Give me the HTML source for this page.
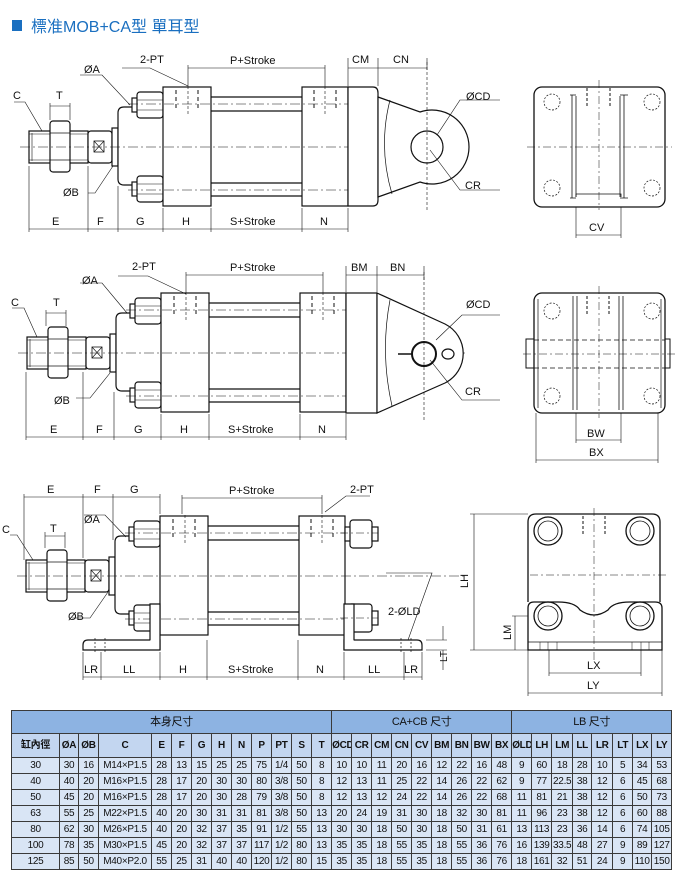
<!DOCTYPE html>
<html><head><meta charset="utf-8">
<style>
html,body{margin:0;padding:0;background:#fff;}
body{width:680px;height:873px;position:relative;overflow:hidden;font-family:"Liberation Sans","Noto Sans CJK TC",sans-serif;}
svg{position:absolute;left:0;top:0;}
svg text{font-family:"Liberation Sans","Noto Sans CJK TC",sans-serif;font-size:11px;fill:#111;}
#tb{position:absolute;left:11px;top:710px;width:661px;border-collapse:collapse;table-layout:fixed;font-size:10px;color:#111;}
#tb td{border:1px solid #3a3a3a;text-align:center;padding:0;background:#d9e5f5;height:15px;line-height:14px;overflow:hidden;white-space:nowrap;letter-spacing:-0.3px;}
#tb tr.h1 td{background:#8db3e2;height:22px;font-size:11px;}
#tb tr.h2 td{background:#c3d6f0;height:23px;font-weight:bold;}
</style></head><body>
<svg width="680" height="873" viewBox="0 0 680 873">
<defs>
<g id="cyl" fill="none" stroke="#111" stroke-width="1.2">
  <rect x="29" y="131" width="59" height="32" fill="#fff"/>
  <line x1="32" y1="133" x2="32" y2="161" stroke-width="0.6"/>
  <line x1="29" y1="134" x2="88" y2="134" stroke-width="0.6"/>
  <line x1="29" y1="160" x2="88" y2="160" stroke-width="0.6"/>
  <rect x="50" y="121" width="20" height="51" rx="3" fill="#fff"/>
  <line x1="50" y1="133" x2="70" y2="133" stroke-width="0.7"/>
  <line x1="50" y1="160" x2="70" y2="160" stroke-width="0.7"/>
  <rect x="88" y="131" width="24" height="32" rx="3" fill="#fff"/>
  <rect x="94" y="141" width="10" height="11" stroke-width="0.8"/>
  <path d="M94,141 L104,152 M104,141 L94,152" stroke-width="0.6"/>
  <rect x="112" y="128" width="6" height="38" fill="#fff"/>
  <path d="M163,107 L124,107 Q118,107 118,113 L118,179 Q118,185 124,185 L163,185" fill="#fff"/>
  <rect x="132" y="98" width="6" height="14" fill="#fff"/>
  <rect x="137" y="92" width="26" height="26" rx="3" fill="#fff"/>
  <line x1="137" y1="100" x2="163" y2="100" stroke-width="0.6"/><line x1="137" y1="110" x2="163" y2="110" stroke-width="0.6"/>
  <rect x="132" y="182" width="6" height="14" fill="#fff"/>
  <rect x="137" y="176" width="26" height="26" rx="3" fill="#fff"/>
  <line x1="137" y1="184" x2="163" y2="184" stroke-width="0.6"/><line x1="137" y1="194" x2="163" y2="194" stroke-width="0.6"/>
  <rect x="163" y="87" width="48" height="119" fill="#fff"/>
  <rect x="302" y="87" width="46" height="119" fill="#fff"/>
  <line x1="211" y1="97" x2="302" y2="97"/><line x1="211" y1="111" x2="302" y2="111"/>
  <line x1="211" y1="183" x2="302" y2="183"/><line x1="211" y1="196" x2="302" y2="196"/>
  <path d="M176,90 V108 M198,90 V108 M314,90 V108 M336,90 V108" stroke-dasharray="4,3" stroke-width="1"/>
  <path d="M188,86 V116 M325,86 V116" stroke-dasharray="3,2" stroke-width="0.6"/>
  <path d="M20,147 H470" stroke-dasharray="10,3,2,3" stroke-width="0.6"/>
  <path d="M128,104 H360 M128,190 H360" stroke-dasharray="10,3,2,3" stroke-width="0.5"/>
</g>
</defs>

<rect x="12" y="20" width="10" height="11" fill="#1a6fc0"/>
<text x="31" y="32" style="font-size:16px;fill:#1a6fc0">標准MOB+CA型 單耳型</text>

<!-- Section 1 -->
<use href="#cyl"/>
<g fill="none" stroke="#111" stroke-width="1.2">
  <path d="M348,87 H373 Q378,87 378,93 V200 Q378,206 373,206 H348 Z" fill="#fff"/>
  <path d="M378,97 L420,112 A37,37 0 1 1 420,182 L378,197 Z" fill="#fff"/>
  <path d="M390,100 Q378,147 392,194" stroke-width="0.7"/>
  <circle cx="427" cy="147" r="16" fill="#fff"/>
  <path d="M427,62 V210" stroke-dasharray="3,2" stroke-width="0.6"/>
</g>
<g stroke="#111" stroke-width="0.6" fill="none">
  <path d="M29,166 V232 M88,166 V232 M118,186 V232 M163,208 V232 M211,208 V232 M302,208 V232 M348,208 V232"/>
  <path d="M29,229 H348"/>
  <path d="M188,68 H325 M188,65 V86 M325,65 V86"/>
  <path d="M348,58 V86 M378,58 V86 M427,58 V70 M348,68 H427"/>
  <path d="M50,103 V120 M70,103 V120 M50,106 H70"/>
  <path d="M122,68 H150 L188,86"/>
  <path d="M80,75 H102 L130,105"/>
  <path d="M14,102 H25 L42,131"/>
  <path d="M88,193 H95 L113,166"/>
  <path d="M500,100 H460 L437,135"/>
  <path d="M500,190 H460 L430,150"/>
</g>
<text x="140" y="63">2-PT</text>
<text x="230" y="64">P+Stroke</text>
<text x="352" y="63">CM</text>
<text x="393" y="63">CN</text>
<text x="84" y="73">ØA</text>
<text x="13" y="99">C</text>
<text x="56" y="99">T</text>
<text x="63" y="196">ØB</text>
<text x="466" y="100">ØCD</text>
<text x="465" y="189">CR</text>
<text x="52" y="225">E</text>
<text x="97" y="225">F</text>
<text x="136" y="225">G</text>
<text x="182" y="225">H</text>
<text x="230" y="225">S+Stroke</text>
<text x="320" y="225">N</text>

<!-- Section 2 -->
<use href="#cyl" transform="translate(-2,206)"/>
<g fill="none" stroke="#111" stroke-width="1.2">
  <rect x="346" y="293" width="31" height="120" fill="#fff"/>
  <path d="M377,293 L445,324 A33,33 0 0 1 445,383 L377,413 Z" fill="#fff"/>
  <path d="M390,300 Q380,353 392,406" stroke-width="0.7"/>
  <circle cx="424" cy="354" r="12" fill="#fff" stroke-width="2"/>
  <ellipse cx="448" cy="354" rx="6" ry="5" stroke-width="1.2"/>
  <path d="M398,354 H412" stroke-width="1.5"/>
  <path d="M424,272 V420" stroke-dasharray="3,2" stroke-width="0.6"/>
</g>
<g stroke="#111" stroke-width="0.6" fill="none">
  <path d="M26,372 V440 M83,372 V440 M114,392 V440 M161,414 V440 M209,414 V440 M300,414 V440 M346,414 V440"/>
  <path d="M26,437 H346"/>
  <path d="M186,275 H323 M186,272 V292 M323,272 V292"/>
  <path d="M346,266 V292 M377,266 V292 M424,266 V280 M346,275 H424"/>
  <path d="M46,310 V326 M66,310 V326 M46,313 H66"/>
  <path d="M118,276 H148 L186,294"/>
  <path d="M80,283 H102 L127,313"/>
  <path d="M12,308 H24 L37,337"/>
  <path d="M76,398 H90 L110,373"/>
  <path d="M500,315 H462 L436,340"/>
  <path d="M500,400 H462 L430,360"/>
</g>
<text x="132" y="270">2-PT</text>
<text x="230" y="271">P+Stroke</text>
<text x="351" y="271">BM</text>
<text x="390" y="271">BN</text>
<text x="82" y="284">ØA</text>
<text x="11" y="306">C</text>
<text x="53" y="306">T</text>
<text x="54" y="404">ØB</text>
<text x="466" y="308">ØCD</text>
<text x="465" y="395">CR</text>
<text x="50" y="433">E</text>
<text x="96" y="433">F</text>
<text x="134" y="433">G</text>
<text x="180" y="433">H</text>
<text x="228" y="433">S+Stroke</text>
<text x="318" y="433">N</text>

<!-- Section 3 -->
<use href="#cyl" transform="translate(-3,429)"/>
<g fill="none" stroke="#111" stroke-width="1.2">
  <rect x="345" y="527" width="6" height="14" fill="#fff"/>
  <rect x="350" y="520" width="22" height="28" rx="3" fill="#fff"/>
  <rect x="372" y="527" width="6" height="14" fill="#fff"/>
  <path d="M160,640 H88 Q83,640 83,645 V650 H160 Z" fill="#fff"/>
  <path d="M150,640 V604 H160 V650" fill="#fff"/>
  <rect x="348" y="604" width="24" height="28" rx="3" fill="#fff"/>
  <rect x="372" y="611" width="6" height="14" fill="#fff"/>
  <path d="M344,640 H417 Q422,640 422,645 V650 H344 Z" fill="#fff"/>
  <path d="M354,640 V604 H344 V650" fill="#fff"/>
  <path d="M95,638 V652 M105,638 V652 M401,638 V652 M411,638 V652" stroke-dasharray="2,2" stroke-width="0.7"/>
  <path d="M340,533 H378 M340,618 H378" stroke-dasharray="8,3,2,3" stroke-width="0.5"/>
</g>
<g stroke="#111" stroke-width="0.6" fill="none">
  <path d="M24,494 V560 M83,494 V558 M113,494 V540 M160,494 V514"/>
  <path d="M24,497 H160"/>
  <path d="M182,498 H322 M182,495 V514 M322,495 V514"/>
  <path d="M45,532 V548 M65,532 V548 M45,536 H65"/>
  <path d="M83,652 V680 M101,652 V680 M160,652 V680 M207,640 V680 M298,640 V680 M344,652 V680 M404,652 V680 M422,652 V680"/>
  <path d="M83,677 H422"/>
  <path d="M325,512 L346,496 H370"/>
  <path d="M84,515 H105 L126,537"/>
  <path d="M10,535 H17 L33,560"/>
  <path d="M72,618 H90 L108,592"/>
  <path d="M386,573 H432 L408,640"/>
  <path d="M426,640 H447 M426,650 H447 M443,626 V640 M443,650 V670"/>
</g>
<text x="47" y="493">E</text>
<text x="94" y="493">F</text>
<text x="130" y="493">G</text>
<text x="229" y="494">P+Stroke</text>
<text x="350" y="493">2-PT</text>
<text x="84" y="523">ØA</text>
<text x="2" y="533">C</text>
<text x="50" y="532">T</text>
<text x="68" y="620">ØB</text>
<text x="388" y="615">2-ØLD</text>
<text x="84" y="673">LR</text>
<text x="123" y="673">LL</text>
<text x="179" y="673">H</text>
<text x="228" y="673">S+Stroke</text>
<text x="316" y="673">N</text>
<text x="368" y="673">LL</text>
<text x="404" y="673">LR</text>
<text transform="translate(447,662) rotate(-90)" style="font-size:10px">LT</text>

<!-- Right view 1 -->
<g fill="none" stroke="#111" stroke-width="1.3">
  <rect x="534" y="87" width="131" height="120" rx="8"/>
  <path d="M572,95 V198 M576,96 V197 M620,96 V197 M624,95 V198" stroke-width="0.8"/>
  <path d="M576,197 V194 H621 V197" stroke-width="0.8"/>
  <path d="M570,95 H576 M620,95 H628 M570,198 H576 M620,198 H628" stroke-width="0.8"/>
  <g stroke-width="0.7" stroke-dasharray="2,1.5">
    <circle cx="552" cy="102" r="8"/><circle cx="652" cy="102" r="8"/>
    <circle cx="552" cy="188" r="8"/><circle cx="652" cy="188" r="8"/>
  </g>
  <path d="M527,147 H672 M599,80 V210" stroke-dasharray="8,3,2,3" stroke-width="0.5"/>
  <path d="M587,88 V106 M610,88 V106" stroke-dasharray="3,2" stroke-width="1"/>
  <path d="M576,207 V238 M621,207 V238 M576,235 H621" stroke-width="0.6"/>
</g>
<text x="589" y="231">CV</text>

<!-- Right view 2 -->
<g fill="none" stroke="#111" stroke-width="1.3">
  <rect x="534" y="293" width="131" height="120" rx="8"/>
  <path d="M526,339 H534 V368 H526 Z M665,339 H670 V368 H665 Z" stroke-width="1"/>
  <path d="M538,299 V408 M661,299 V408" stroke-width="0.7"/>
  <path d="M573,296 V410 M577,296 V410 M619,296 V410 M623,296 V410" stroke-width="0.8"/>
  <path d="M534,340 H665 M534,368 H665" stroke-dasharray="5,3" stroke-width="0.8"/>
  <g stroke-width="0.7" stroke-dasharray="2,1.5">
    <circle cx="552" cy="311" r="8"/><circle cx="652" cy="311" r="8"/>
    <circle cx="552" cy="396" r="8"/><circle cx="652" cy="396" r="8"/>
  </g>
  <path d="M523,354 H675 M599,286 V418" stroke-dasharray="8,3,2,3" stroke-width="0.5"/>
  <path d="M587,296 V314 M609,296 V314" stroke-dasharray="3,2" stroke-width="1"/>
  <path d="M576,413 V443 M621,413 V443 M576,440 H621 M536,413 V463 M658,413 V463 M536,460 H658" stroke-width="0.6"/>
</g>
<text x="587" y="437">BW</text>
<text x="589" y="456">BX</text>

<!-- Right view 3 -->
<g fill="none" stroke="#111" stroke-width="1.3">
  <path d="M528,602 V522 Q528,514 536,514 H652 Q660,514 660,522 V602"/>
  <path d="M528,650 V608 Q528,602 534,602 H558 Q575,602 580,610 Q594,620 608,610 Q613,602 630,602 H655 Q662,602 662,608 V650 Z" fill="#fff"/>
  <path d="M528,642 H662" stroke-width="0.7"/>
  <path d="M540,642 V650 M548,642 V650 M557,642 V650 M632,642 V650 M641,642 V650 M649,642 V650" stroke-width="0.5"/>
  <g>
    <circle cx="548" cy="531" r="14"/><circle cx="548" cy="531" r="10" stroke-width="0.8"/>
    <circle cx="640" cy="531" r="14"/><circle cx="640" cy="531" r="10" stroke-width="0.8"/>
    <circle cx="548" cy="616" r="14"/><circle cx="548" cy="616" r="10" stroke-width="0.8"/>
    <circle cx="640" cy="616" r="14"/><circle cx="640" cy="616" r="10" stroke-width="0.8"/>
  </g>
  <path d="M530,575 H668 M594,508 V660" stroke-dasharray="8,3,2,3" stroke-width="0.5"/>
  <path d="M583,516 V534 M605,516 V534" stroke-dasharray="3,2" stroke-width="1"/>
  <path d="M470,514 H528 M470,650 H528 M474,514 V650" stroke-width="0.6"/>
  <path d="M512,616 H528 M515,616 V650" stroke-width="0.6"/>
  <path d="M549,650 V676 M641,650 V676 M549,673 H641 M528,650 V696 M662,650 V696 M528,693 H662" stroke-width="0.6"/>
</g>
<text transform="translate(468,588) rotate(-90)">LH</text>
<text transform="translate(511,640) rotate(-90)">LM</text>
<text x="587" y="669">LX</text>
<text x="587" y="689">LY</text>
</svg>

<table id="tb">
<colgroup>
<col style="width:48px"><col style="width:19px"><col style="width:20px"><col style="width:53px">
<col style="width:20px"><col style="width:20px"><col style="width:20px"><col style="width:20px"><col style="width:20px"><col style="width:20px"><col style="width:20px"><col style="width:20px"><col style="width:20px">
<col style="width:20px"><col style="width:20px"><col style="width:20px"><col style="width:20px"><col style="width:20px"><col style="width:20px"><col style="width:20px"><col style="width:20px"><col style="width:20px">
<col style="width:20px"><col style="width:20px"><col style="width:21px"><col style="width:19px"><col style="width:21px"><col style="width:20px"><col style="width:19px"><col style="width:20px">
</colgroup>
<tr class="h1"><td colspan="13">本身尺寸</td><td colspan="9">CA+CB 尺寸</td><td colspan="8">LB 尺寸</td></tr>
<tr class="h2"><td>缸內徑</td><td>ØA</td><td>ØB</td><td>C</td><td>E</td><td>F</td><td>G</td><td>H</td><td>N</td><td>P</td><td>PT</td><td>S</td><td>T</td><td>ØCD</td><td>CR</td><td>CM</td><td>CN</td><td>CV</td><td>BM</td><td>BN</td><td>BW</td><td>BX</td><td>ØLD</td><td>LH</td><td>LM</td><td>LL</td><td>LR</td><td>LT</td><td>LX</td><td>LY</td></tr>
<tr><td>30</td><td>30</td><td>16</td><td>M14×P1.5</td><td>28</td><td>13</td><td>15</td><td>25</td><td>25</td><td>75</td><td>1/4</td><td>50</td><td>8</td><td>10</td><td>10</td><td>11</td><td>20</td><td>16</td><td>12</td><td>22</td><td>16</td><td>48</td><td>9</td><td>60</td><td>18</td><td>28</td><td>10</td><td>5</td><td>34</td><td>53</td></tr>
<tr><td>40</td><td>40</td><td>20</td><td>M16×P1.5</td><td>28</td><td>17</td><td>20</td><td>30</td><td>30</td><td>80</td><td>3/8</td><td>50</td><td>8</td><td>12</td><td>13</td><td>11</td><td>25</td><td>22</td><td>14</td><td>26</td><td>22</td><td>62</td><td>9</td><td>77</td><td>22.5</td><td>38</td><td>12</td><td>6</td><td>45</td><td>68</td></tr>
<tr><td>50</td><td>45</td><td>20</td><td>M16×P1.5</td><td>28</td><td>17</td><td>20</td><td>30</td><td>28</td><td>79</td><td>3/8</td><td>50</td><td>8</td><td>12</td><td>13</td><td>12</td><td>24</td><td>22</td><td>14</td><td>26</td><td>22</td><td>68</td><td>11</td><td>81</td><td>21</td><td>38</td><td>12</td><td>6</td><td>50</td><td>73</td></tr>
<tr><td>63</td><td>55</td><td>25</td><td>M22×P1.5</td><td>40</td><td>20</td><td>30</td><td>31</td><td>31</td><td>81</td><td>3/8</td><td>50</td><td>13</td><td>20</td><td>24</td><td>19</td><td>31</td><td>30</td><td>18</td><td>32</td><td>30</td><td>81</td><td>11</td><td>96</td><td>23</td><td>38</td><td>12</td><td>6</td><td>60</td><td>88</td></tr>
<tr><td>80</td><td>62</td><td>30</td><td>M26×P1.5</td><td>40</td><td>20</td><td>32</td><td>37</td><td>35</td><td>91</td><td>1/2</td><td>55</td><td>13</td><td>30</td><td>30</td><td>18</td><td>50</td><td>30</td><td>18</td><td>50</td><td>31</td><td>61</td><td>13</td><td>113</td><td>23</td><td>36</td><td>14</td><td>6</td><td>74</td><td>105</td></tr>
<tr><td>100</td><td>78</td><td>35</td><td>M30×P1.5</td><td>45</td><td>20</td><td>32</td><td>37</td><td>37</td><td>117</td><td>1/2</td><td>80</td><td>13</td><td>35</td><td>35</td><td>18</td><td>55</td><td>35</td><td>18</td><td>55</td><td>36</td><td>76</td><td>16</td><td>139</td><td>33.5</td><td>48</td><td>27</td><td>9</td><td>89</td><td>127</td></tr>
<tr><td>125</td><td>85</td><td>50</td><td>M40×P2.0</td><td>55</td><td>25</td><td>31</td><td>40</td><td>40</td><td>120</td><td>1/2</td><td>80</td><td>15</td><td>35</td><td>35</td><td>18</td><td>55</td><td>35</td><td>18</td><td>55</td><td>36</td><td>76</td><td>18</td><td>161</td><td>32</td><td>51</td><td>24</td><td>9</td><td>110</td><td>150</td></tr>
</table>
</body></html>
